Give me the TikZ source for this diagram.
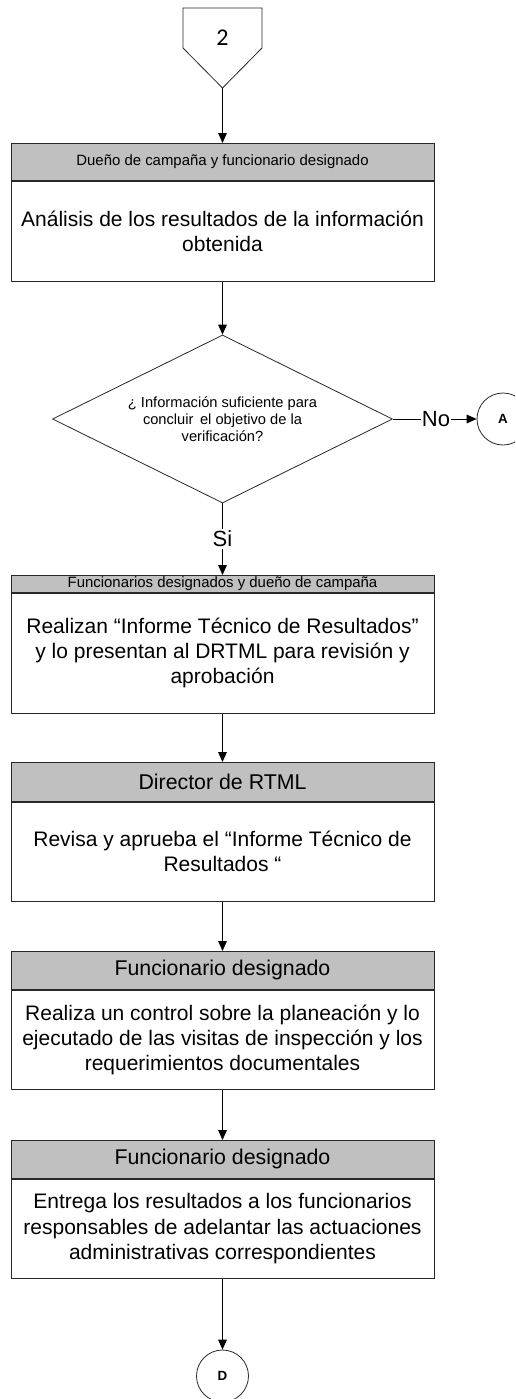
\documentclass[tikz,border=0pt]{standalone}
\usepackage{fontspec}
\setmainfont{Liberation Sans}
\newfontfamily\calib{Carlito}
\usetikzlibrary{arrows.meta,shapes.geometric}
\definecolor{headgray}{RGB}{192,192,192}
\definecolor{edge}{RGB}{40,40,40}
\begin{document}
\begin{tikzpicture}[x=0.75pt,y=-0.75pt,line width=0.6pt,
  flow/.style={draw=black,-{Triangle[length=7.5pt,width=6.5pt]}},
  plain/.style={draw=black},
  hdr/.style={draw=edge,fill=headgray,rectangle,anchor=north,minimum width=317.25pt,inner sep=0pt,align=center},
  body/.style={draw=edge,fill=white,rectangle,anchor=north,minimum width=317.25pt,minimum height=74.25pt,inner sep=0pt,align=center,font=\fontsize{15.75pt}{18.9pt}\selectfont},
  conn/.style={draw=edge,fill=white,circle,minimum size=39pt,inner sep=0pt,font=\bfseries\fontsize{10pt}{11pt}\selectfont}]
\useasboundingbox (0,0) rectangle (515,1399);
\clip (0,0) rectangle (515,1399);

% off-page connector
\draw[draw=edge,fill=white] (183,8) -- (262,8) -- (262,48) -- (222.5,88) -- (183,48) -- cycle;
\node[font=\calib\fontsize{18pt}{20pt}\selectfont,inner sep=0pt] (op) at (222.5,38) {2};
\coordinate (optip) at (222.5,88);

% box 1
\node[hdr,minimum height=27.75pt,font=\fontsize{11.2pt}{13pt}\selectfont] (h1) at (222.5,143) {Dueño de campaña y funcionario designado};
\node[body,minimum height=75pt] (b1) at (h1.south) {Análisis de los resultados de la información\\obtenida};

% decision
\node[draw=edge,fill=white,diamond,shape aspect=2,minimum width=255pt,minimum height=126pt,inner sep=0pt,align=center,font=\fontsize{11pt}{12.9pt}\selectfont] (d) at (222.5,419) {¿ Información suficiente para\\concluir\, el objetivo de la\\verificación?};
\node[font=\fontsize{16.5pt}{18pt}\selectfont,inner sep=0.5pt] (no) at (436,419) {No};
\node[conn] (A) at (503,419) {A};
\node[font=\fontsize{16.5pt}{18pt}\selectfont,fill=white,inner sep=1.5pt] (si) at (222.5,539) {Si};

% box 2
\node[hdr,minimum height=12.75pt,font=\fontsize{11.2pt}{13pt}\selectfont] (h2) at (222.5,575) {Funcionarios designados y dueño de campaña};
\node[body,minimum height=90pt] (b2) at (h2.south) {Realizan “Informe Técnico de Resultados”\\y lo presentan al DRTML para revisión y\\aprobación};

% box 3
\node[hdr,minimum height=29.25pt,font=\fontsize{16pt}{18pt}\selectfont] (h3) at (222.5,762) {Director de RTML};
\node[body] (b3) at (h3.south) {Revisa y aprueba el “Informe Técnico de\\Resultados “};

% box 4
\node[hdr,minimum height=28.5pt,font=\fontsize{16pt}{18pt}\selectfont] (h4) at (222.5,951) {Funcionario designado};
\node[body] (b4) at (h4.south) {Realiza un control sobre la planeación y lo\\ejecutado de las visitas de inspección y los\\requerimientos documentales};

% box 5
\node[hdr,minimum height=28.5pt,font=\fontsize{16pt}{18pt}\selectfont] (h5) at (222.5,1140) {Funcionario designado};
\node[body] (b5) at (h5.south) {Entrega los resultados a los funcionarios\\responsables de adelantar las actuaciones\\administrativas correspondientes};

\node[conn] (D) at (222.5,1376) {D};

% connectors
\draw[flow] (optip) -- (h1.north);
\draw[flow] (b1.south) -- (d.north);
\draw[plain] (d.east) -- (no.west);
\draw[flow] (no.east) -- (A.west);
\draw[plain] (d.south) -- (si.north);
\draw[flow] (si.south) -- (h2.north);
\draw[flow] (b2.south) -- (h3.north);
\draw[flow] (b3.south) -- (h4.north);
\draw[flow] (b4.south) -- (h5.north);
\draw[flow] (b5.south) -- (D.north);
\end{tikzpicture}
\end{document}
